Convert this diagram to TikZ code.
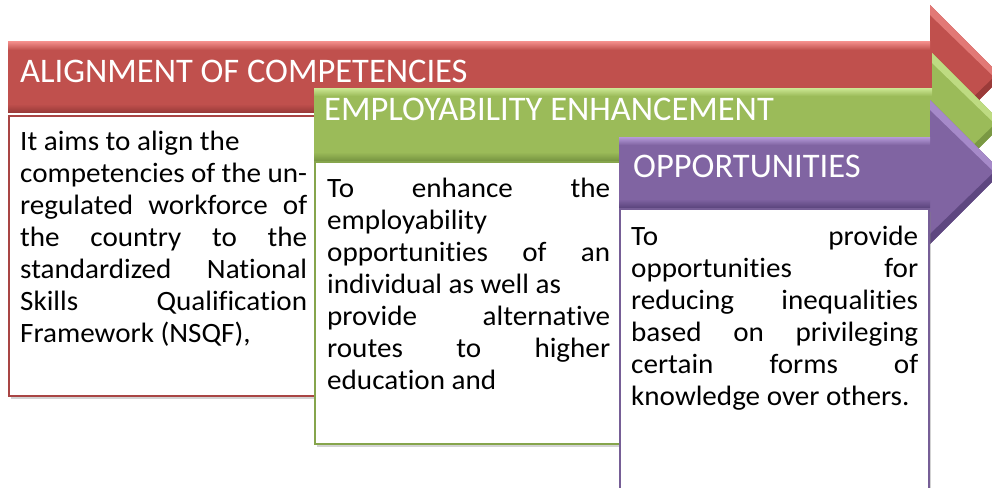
\documentclass[tikz,border=0pt]{standalone}
\usepackage{fontspec}
\setmainfont[Ligatures=NoCommon]{Carlito}
\newfontfamily\bodyfont[Ligatures=NoCommon,FakeStretch=1.04]{Carlito}
\usetikzlibrary{shadows}
\definecolor{rbase}{HTML}{C0504D}
\definecolor{rlight}{HTML}{F08A87}
\definecolor{rdark}{HTML}{9A3B39}
\definecolor{rline}{HTML}{A94544}
\definecolor{gbase}{HTML}{9BBB59}
\definecolor{glight}{HTML}{CDE894}
\definecolor{gdark}{HTML}{7A9843}
\definecolor{gline}{HTML}{86A54C}
\definecolor{pbase}{HTML}{8064A2}
\definecolor{plight}{HTML}{B69BDA}
\definecolor{pdark}{HTML}{5E4780}
\definecolor{pline}{HTML}{765E96}
\newcommand\jline[2]{\makebox[#1][s]{#2}\\}
\tikzset{
  textbox/.style={draw=#1, line width=2.2pt, fill=white, rectangle, inner sep=0pt, anchor=north west,
    drop shadow={shadow xshift=2pt, shadow yshift=-3pt, opacity=0.35}},
  ttl/.style={anchor=base west, inner sep=0pt, text=white, font=\fontsize{34.5}{40}\selectfont},
  body/.style={anchor=base west, inner sep=0pt, font=\bodyfont\fontsize{28}{32}\selectfont}
}
\begin{document}
\begin{tikzpicture}[x=1pt,y=-1pt]
\useasboundingbox (0,0) rectangle (992,487);
\clip (0,0) rectangle (992,487);
% red arrow
\fill[rbase] (8,42) -- (930,42) -- (930,5) -- (1002,77) -- (930,149) -- (930,112) -- (8,112) -- cycle;
\fill[top color=rlight, bottom color=rbase] (8,42) rectangle (930,50);
\fill[top color=rbase, bottom color=rdark] (8,104) rectangle (930,112);
\fill[rlight!70!rbase] (930,5) -- (1002,77) -- (994,77) -- (930,15) -- cycle;
\fill[rdark] (930,149) -- (1002,77) -- (994,77) -- (930,139) -- cycle;
\node[textbox=rline, minimum width=322pt, minimum height=280pt] (rbox) at (8,115) {};
\node[ttl] (rt) at (20,82) {ALIGNMENT OF COMPETENCIES};
\node[body] (rtext) at (20,150) {\parbox[t]{287pt}{%
It aims to align the\\
\jline{287pt}{competencies of the un-}
\jline{287pt}{regulated workforce of}
\jline{287pt}{the country to the}
\jline{287pt}{standardized National}
\jline{287pt}{Skills Qualification}
Framework (NSQF),}};
% green arrow
\fill[gbase] (314,88) -- (932,88) -- (932,53) -- (1003,124) -- (932,195) -- (932,160) -- (314,160) -- cycle;
\fill[top color=glight, bottom color=gbase] (314,88) rectangle (932,96);
\fill[top color=gbase, bottom color=gdark] (314,152) rectangle (932,160);
\fill[glight!70!gbase] (932,53) -- (1003,124) -- (995,124) -- (932,63) -- cycle;
\fill[gdark] (932,195) -- (1003,124) -- (995,124) -- (932,185) -- cycle;
\node[textbox=gline, minimum width=316pt, minimum height=282pt] (gbox) at (314,161) {};
\node[ttl] (gt) at (324,120) {EMPLOYABILITY ENHANCEMENT};
\node[body] (gtext) at (327,197) {\parbox[t]{283pt}{%
\jline{283pt}{To enhance the}
employability\\
\jline{283pt}{opportunities of an}
individual as well as\\
\jline{283pt}{provide alternative}
\jline{283pt}{routes to higher}
education and}};
% purple arrow
\fill[pbase] (619,137) -- (930,137) -- (930,100) -- (1002,172) -- (930,244) -- (930,207) -- (619,207) -- cycle;
\fill[top color=plight, bottom color=pbase] (619,137) rectangle (930,145);
\fill[top color=pbase, bottom color=pdark] (619,199) rectangle (930,207);
\fill[plight!70!pbase] (930,100) -- (1002,172) -- (994,172) -- (930,110) -- cycle;
\fill[pdark] (930,244) -- (1002,172) -- (994,172) -- (930,234) -- cycle;
\node[textbox=pline, minimum width=309pt, minimum height=280pt] (pbox) at (619,208) {};
\node[ttl] (pt) at (633,177) {OPPORTUNITIES};
\node[body] (ptext) at (631,245) {\parbox[t]{287pt}{%
\jline{287pt}{To provide}
\jline{287pt}{opportunities for}
\jline{287pt}{reducing inequalities}
\jline{287pt}{based on privileging}
\jline{287pt}{certain forms of}
knowledge over others.}};
\end{tikzpicture}
\end{document}
